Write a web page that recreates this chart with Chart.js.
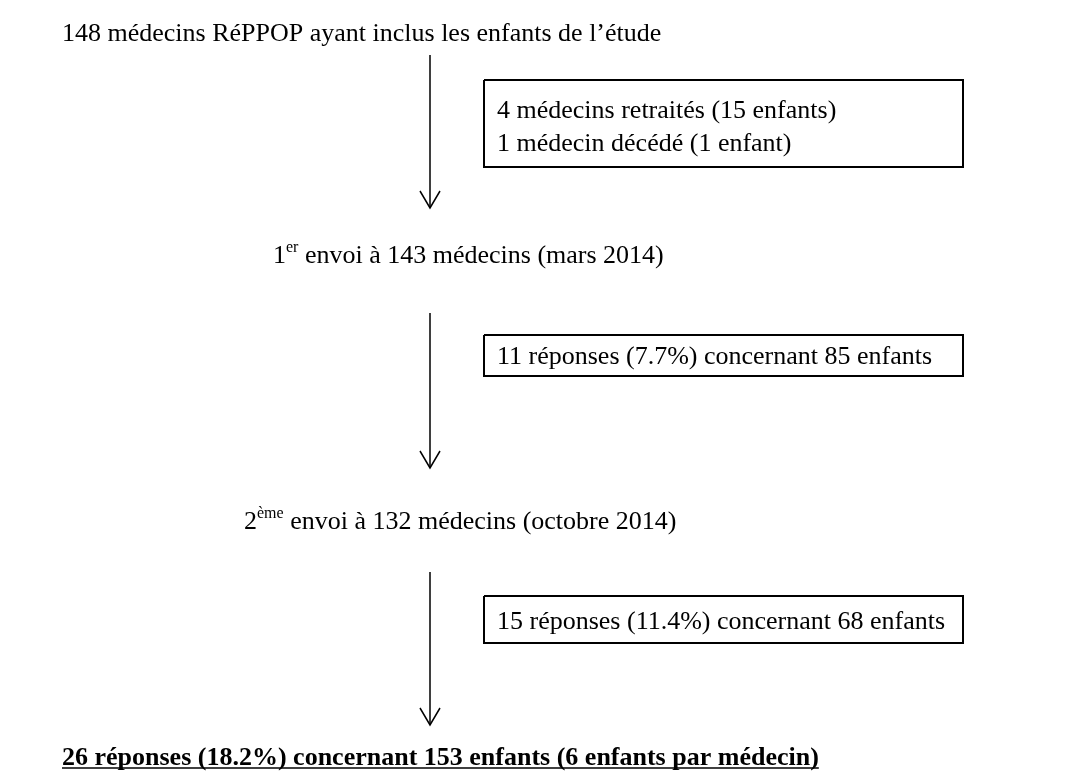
<!DOCTYPE html>
<html>
<head>
<meta charset="utf-8">
<script src="https://cdn.jsdelivr.net/npm/chart.js@4/dist/chart.umd.min.js"></script>
<style>
  body { margin: 0; background: #fff; }
  canvas { display: block; }
</style>
</head>
<body>
<canvas id="myChart" width="1082" height="778"></canvas>
<script>
// flow chart content
const startText = '148 médecins RéPPOP ayant inclus les enfants de l’étude'
const stepNumbers = ['1', '2']
const stepSups = ['er', 'ème']
const stepTexts = [' envoi à 143 médecins (mars 2014)', ' envoi à 132 médecins (octobre 2014)']
const sideBoxTexts = [
  ['4 médecins retraités (15 enfants)', '1 médecin décédé (1 enfant)'],
  ['11 réponses (7.7%) concernant 85 enfants'],
  ['15 réponses (11.4%) concernant 68 enfants']
]
const totalText = '26 réponses (18.2%) concernant 153 enfants (6 enfants par médecin)'

// layout, in axis units (same as pixels here)
const layout = {
  start: { x: 62, y: 41 },
  steps: [{ x: 273, y: 263 }, { x: 244, y: 529 }],
  arrows: [
    { x: 430, from: 55, to: 208 },
    { x: 430, from: 313, to: 468 },
    { x: 430, from: 572, to: 725 }
  ],
  boxes: [
    { x1: 484, x2: 963, y1: 80, y2: 167, textX: 497, lines: [118, 151] },
    { x1: 484, x2: 963, y1: 335, y2: 376, textX: 497, lines: [364] },
    { x1: 484, x2: 963, y1: 596, y2: 643, textX: 497, lines: [629] }
  ],
  total: { x: 62, y: 765 },
  font: '"Liberation Serif", "Times New Roman", serif',
  size: 26
}

const arrowSets = layout.arrows.map((a) => ({
  data: [{ x: a.x, y: a.from }, { x: a.x, y: a.to }],
  showLine: true,
  borderColor: '#000',
  borderWidth: 1.5,
  pointRadius: 0
}))

const boxSets = layout.boxes.map((b) => ({
  data: [
    { x: b.x1, y: b.y1 }, { x: b.x2, y: b.y1 },
    { x: b.x2, y: b.y2 }, { x: b.x1, y: b.y2 }, { x: b.x1, y: b.y1 }
  ],
  showLine: true,
  borderColor: '#000',
  borderWidth: 2,
  pointRadius: 0
}))

const flowText = {
  id: 'flowText',
  afterDatasetsDraw(chart) {
    const ctx = chart.ctx
    const xs = chart.scales.x
    const ys = chart.scales.y
    const px = (v) => xs.getPixelForValue(v)
    const py = (v) => ys.getPixelForValue(v)
    const f = layout.font
    const s = layout.size
    const normal = s + 'px ' + f
    ctx.save()
    ctx.fillStyle = '#000'
    ctx.strokeStyle = '#000'
    ctx.textBaseline = 'alphabetic'
    ctx.textAlign = 'left'

    // arrow heads
    arrowSets.forEach((ds, i) => {
      const pt = chart.getDatasetMeta(i).data[1]
      ctx.lineWidth = 1.5
      ctx.beginPath()
      ctx.moveTo(pt.x - 10, pt.y - 17)
      ctx.lineTo(pt.x, pt.y)
      ctx.lineTo(pt.x + 10, pt.y - 17)
      ctx.stroke()
    })

    ctx.font = normal
    ctx.fillText(startText, px(layout.start.x), py(layout.start.y))

    stepTexts.forEach((t, i) => {
      const p = layout.steps[i]
      let x = px(p.x)
      const y = py(p.y)
      ctx.font = normal
      ctx.fillText(stepNumbers[i], x, y)
      x += ctx.measureText(stepNumbers[i]).width
      ctx.font = Math.round(s * 0.62) + 'px ' + f
      ctx.fillText(stepSups[i], x, y - s * 0.42)
      x += ctx.measureText(stepSups[i]).width
      ctx.font = normal
      ctx.fillText(t, x, y)
    })

    ctx.font = normal
    sideBoxTexts.forEach((lines, i) => {
      const b = layout.boxes[i]
      lines.forEach((t, j) => ctx.fillText(t, px(b.textX), py(b.lines[j])))
    })

    ctx.font = 'bold ' + normal
    const tx = px(layout.total.x)
    const ty = py(layout.total.y)
    ctx.fillText(totalText, tx, ty)
    const w = ctx.measureText(totalText).width
    ctx.lineWidth = 1.5
    ctx.beginPath()
    ctx.moveTo(tx, ty + 3)
    ctx.lineTo(tx + w, ty + 3)
    ctx.stroke()
    ctx.restore()
  }
}

const config = {
  type: 'scatter',
  data: { datasets: [...arrowSets, ...boxSets] },
  options: {
    responsive: false,
    animation: false,
    layout: { padding: 0 },
    scales: {
      x: { type: 'linear', min: 0, max: 1082, display: false },
      y: { type: 'linear', min: 0, max: 778, reverse: true, display: false }
    },
    plugins: { legend: { display: false }, tooltip: { enabled: false } }
  },
  plugins: [flowText]
}

const myChart = new Chart(document.getElementById('myChart'), config)
</script>
</body>
</html>
